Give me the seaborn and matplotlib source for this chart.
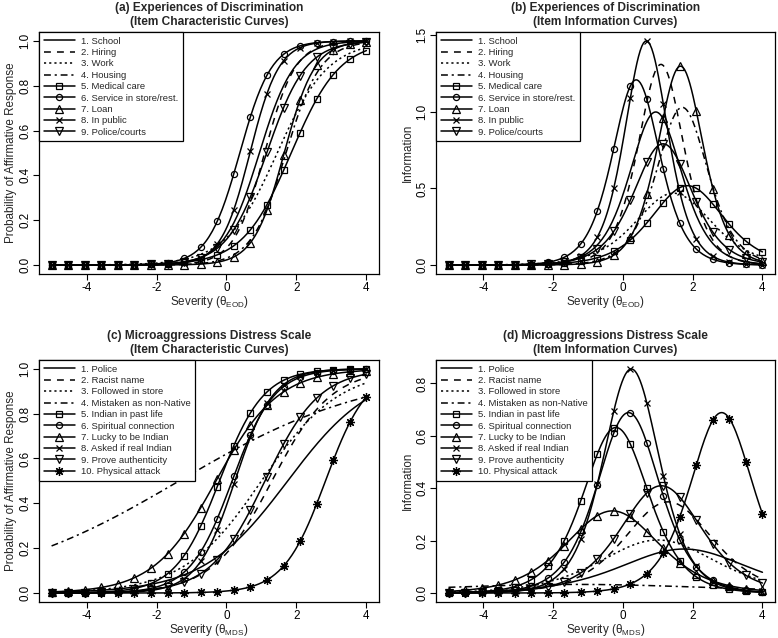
import numpy as np
import pandas as pd
import matplotlib
matplotlib.use('Agg')
import matplotlib.pyplot as plt
import seaborn as sns
from matplotlib.ticker import FormatStrFormatter

# item parameters: discrimination (a) and severity location (b)
eod_items = ['1. School', '2. Hiring', '3. Work', '4. Housing', '5. Medical care',
             '6. Service in store/rest.', '7. Loan', '8. In public', '9. Police/courts']
eod_a = [2.00, 2.29, 1.37, 2.03, 1.44, 2.20, 2.28, 2.42, 1.78]
eod_b = [0.94, 1.09, 1.45, 1.70, 1.85, 0.38, 1.65, 0.67, 1.15]

mds_items = ['1. Police', '2. Racist name', '3. Followed in store',
             '4. Mistaken as non-Native', '5. Indian in past life',
             '6. Spiritual connection', '7. Lucky to be Indian',
             '8. Asked if real Indian', '9. Prove authenticity', '10. Physical attack']
mds_a = [0.82, 1.18, 0.90, 0.363, 1.59, 1.66, 1.12, 1.85, 1.28, 1.66]
mds_b = [1.75, 1.30, 1.00, -1.35, -0.20, 0.16, -0.30, 0.24, 1.10, 2.83]

titles = ['(a) Experiences of Discrimination\n(Item Characteristic Curves)',
          '(b) Experiences of Discrimination\n(Item Information Curves)',
          '(c) Microaggressions Distress Scale\n(Item Characteristic Curves)',
          '(d) Microaggressions Distress Scale\n(Item Information Curves)']

sns.set_theme(style='ticks')
plt.rcParams['font.family'] = ['Liberation Sans', 'DejaVu Sans']
plt.rcParams['mathtext.fontset'] = 'custom'
plt.rcParams['mathtext.rm'] = 'Liberation Sans'
plt.rcParams['axes.unicode_minus'] = False

theta = np.linspace(-5, 4, 191)

# line style / marker per item position
styles = [dict(linestyle='-'),
          dict(linestyle=(0, (4.5, 4))),
          dict(linestyle=(0, (1.4, 2.0))),
          dict(linestyle=(0, (4.5, 2.5, 1.4, 2.5))),
          dict(linestyle='-', marker='s', markersize=4.6),
          dict(linestyle='-', marker='o', markersize=4.4),
          dict(linestyle='-', marker='^', markersize=5.2),
          dict(linestyle='-', marker='x', markersize=4.6),
          dict(linestyle='-', marker='v', markersize=5.2),
          dict(linestyle='-', marker=(8, 2, 0), markersize=6.5)]


def panel(rect, title, items, a_list, b_list, kind, xlab, yticks, ylab):
    ax = fig.add_axes(rect)
    rows = []
    for name, a, b in zip(items, a_list, b_list):
        p = 1 / (1 + np.exp(-a * (theta - b)))
        val = p if kind == 'icc' else a * a * p * (1 - p)
        rows.append(pd.DataFrame({'theta': theta, 'value': val, 'item': name}))
    df = pd.concat(rows)
    for i, name in enumerate(items):
        st = styles[i]
        sub = df[df['item'] == name]
        sns.lineplot(data=sub, x='theta', y='value', ax=ax, color='black',
                     linewidth=1.1, estimator=None, sort=False, errorbar=None,
                     label=name, markevery=10, markerfacecolor='none',
                     markeredgecolor='black', markeredgewidth=0.9, **st)
    lo, hi = df['value'].min(), df['value'].max()
    ax.set_ylim(lo - 0.04 * (hi - lo), hi + 0.04 * (hi - lo))
    ax.set_xlim(-5.36, 4.36)
    ax.set_xticks([-4, -2, 0, 2, 4])
    ax.set_yticks(yticks)
    ax.yaxis.set_major_formatter(FormatStrFormatter('%.1f'))
    plt.setp(ax.get_yticklabels(), rotation=90, va='center')
    ax.tick_params(direction='out', length=4, width=0.8, labelsize=8.4,
                   pad=1.5, color='black', labelcolor='black')
    for s in ax.spines.values():
        s.set_visible(True)
        s.set_linewidth(0.9)
        s.set_color('black')
    ax.set_xlabel('Severity (θ$_{\\mathrm{' + xlab + '}}$)', fontsize=8.4, labelpad=0)
    ax.set_ylabel(ylab, fontsize=8.4, labelpad=2)
    ax.set_title(title, fontsize=8.6, fontweight='bold', pad=5, linespacing=1.2)
    leg = ax.legend(loc='upper left', borderaxespad=0, fontsize=6.8,
                    frameon=True, fancybox=False, edgecolor='black', framealpha=1,
                    handlelength=3.3, handletextpad=0.6, labelspacing=0.25,
                    borderpad=0.5, numpoints=1)
    leg.get_frame().set_linewidth(0.9)
    ax.set_facecolor('white')
    return ax


fig = plt.figure(figsize=(7.78, 6.38), dpi=100)
W, H = 778, 638
rect_a = [39 / W, 1 - 274 / H, 340 / W, 242 / H]
rect_b = [436 / W, 1 - 274 / H, 339 / W, 242 / H]
rect_c = [39 / W, 1 - 602 / H, 340 / W, 242 / H]
rect_d = [436 / W, 1 - 602 / H, 339 / W, 242 / H]

panel(rect_a, titles[0], eod_items, eod_a, eod_b, 'icc', 'EOD',
      [0, 0.2, 0.4, 0.6, 0.8, 1.0], 'Probability of Affirmative Response')
panel(rect_b, titles[1], eod_items, eod_a, eod_b, 'iic', 'EOD',
      [0, 0.5, 1.0, 1.5], 'Information')
panel(rect_c, titles[2], mds_items, mds_a, mds_b, 'icc', 'MDS',
      [0, 0.2, 0.4, 0.6, 0.8, 1.0], 'Probability of Affirmative Response')
panel(rect_d, titles[3], mds_items, mds_a, mds_b, 'iic', 'MDS',
      [0, 0.2, 0.4, 0.6, 0.8], 'Information')

fig.savefig('out.png', dpi=100, facecolor='white')
